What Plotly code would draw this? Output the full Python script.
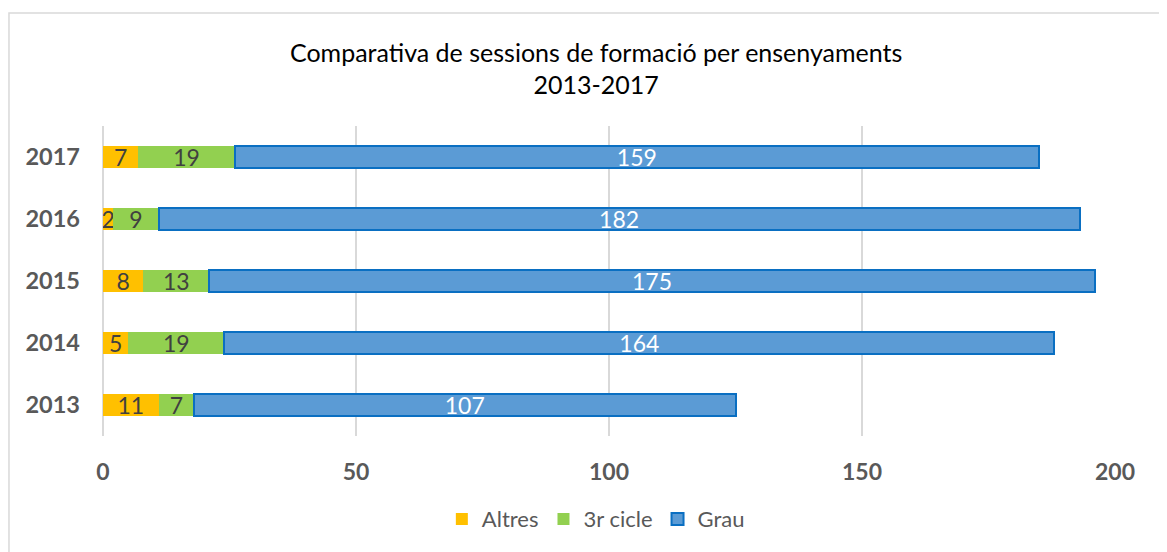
import plotly.graph_objects as go

years = ["2013", "2014", "2015", "2016", "2017"]
altres = [11, 5, 8, 2, 7]
cicle3 = [7, 19, 13, 9, 19]
grau = [107, 164, 175, 182, 159]
x_ticks = [0, 50, 100, 150, 200]

FONT = "Lato"
GRAY = "#595959"
LBL = 23

fig = go.Figure()
fig.add_trace(go.Bar(
    y=years, x=altres, name="Altres", orientation="h",
    marker=dict(color="#FFC000", line=dict(width=0)),
    text=altres, textposition="inside", insidetextanchor="middle", textangle=0,
    textfont=dict(color="#404040", size=LBL, family=FONT), constraintext="none",
))
fig.add_trace(go.Bar(
    y=years, x=cicle3, name="3r cicle", orientation="h",
    marker=dict(color="#92D050", line=dict(width=0)),
    text=cicle3, textposition="inside", insidetextanchor="middle", textangle=0,
    textfont=dict(color="#404040", size=LBL, family=FONT), constraintext="none",
))
fig.add_trace(go.Bar(
    y=years, x=grau, name="Grau", orientation="h",
    marker=dict(color="#5B9BD5", line=dict(width=2, color="#0A6FC2")),
    text=grau, textposition="inside", insidetextanchor="middle", textangle=0,
    textfont=dict(color="white", size=LBL, family=FONT), constraintext="none",
))

fig.update_layout(
    width=1167, height=552,
    barmode="stack", bargap=0.645,
    uniformtext=dict(mode=False),
    paper_bgcolor="white", plot_bgcolor="white",
    margin=dict(l=95, r=60, t=118, b=124),
    font=dict(family=FONT, color=GRAY),
    title=dict(
        text="Comparativa de sessions de formació per ensenyaments<br>2013-2017",
        x=0.504, xanchor="center", y=0.903, yanchor="middle",
        font=dict(size=25, color="#000000", family=FONT),
    ),
    xaxis=dict(
        range=[0, 200], tickvals=x_ticks, ticktext=[str(v) for v in x_ticks],
        showgrid=True, gridcolor="#D9D9D9", gridwidth=2,
        zeroline=True, zerolinecolor="#D9D9D9", zerolinewidth=2,
        showline=False, ticks="",
        tickfont=dict(size=23, color=GRAY, family=FONT, weight="bold"),
        ticklabelstandoff=20,
    ),
    yaxis=dict(
        categoryorder="array", categoryarray=years,
        showgrid=False, zeroline=False, showline=False, ticks="",
        tickfont=dict(size=23.5, color=GRAY, family=FONT, weight="bold"),
        ticklabelstandoff=22,
    ),
    legend=dict(
        orientation="h", x=0.487, xanchor="center", y=-0.268, yanchor="middle",
        font=dict(size=22, color=GRAY, family=FONT),
        traceorder="normal", itemwidth=30,
    ),
    shapes=[dict(
        type="rect", xref="paper", yref="paper",
        x0=-0.0929, x1=1.07, y0=-0.45, y1=1.3645,
        line=dict(color="#D9D9D9", width=1.5), fillcolor="rgba(0,0,0,0)",
        layer="below",
    )],
)

fig.write_html("out.html")
